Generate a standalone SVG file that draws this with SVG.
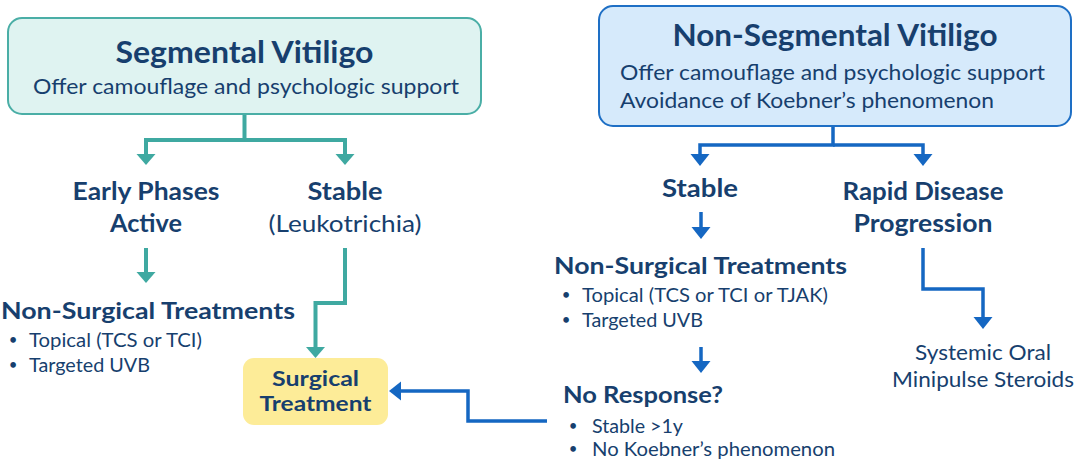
<svg xmlns="http://www.w3.org/2000/svg" width="1081" height="463" viewBox="0 0 1081 463">
<style>
text{font-family:Lato,"Source Sans Pro","Noto Sans",sans-serif;fill:#173f6e}
.b{font-weight:700}
.t{font-size:30px}
.h{font-size:24px}
.s{font-size:22px}
.n{font-size:23px}
.p{font-size:19.5px}
.d{font-size:15px;text-anchor:middle}
.c{text-anchor:middle}
.teal{fill:none;stroke:#3fa9a1;stroke-width:4;stroke-linejoin:miter}
.blue{fill:none;stroke:#1567c2;stroke-width:3.5;stroke-linejoin:miter}
</style>
<defs>
<marker id="ht" markerUnits="userSpaceOnUse" markerWidth="14" markerHeight="22" refX="0" refY="9.5" orient="auto" viewBox="0 0 14 22" overflow="visible">
<path d="M0,0 L11,9.5 L0,19 Z" fill="#3fa9a1"/>
</marker>
<marker id="hb" markerUnits="userSpaceOnUse" markerWidth="14" markerHeight="22" refX="0" refY="9.5" orient="auto" viewBox="0 0 14 22" overflow="visible">
<path d="M0,0 L12,9.5 L0,19 Z" fill="#1567c2"/>
</marker>
</defs>

<g id="connectors">
<path class="teal" d="M244.5,114 V140 H146 V154" marker-end="url(#ht)"/>
<path class="teal" d="M244.5,140 H345 V154" marker-end="url(#ht)"/>
<path class="teal" d="M146,248 V272" marker-end="url(#ht)"/>
<path class="teal" d="M345,248 V303 H315.5 V347" marker-end="url(#ht)"/>
<path class="blue" d="M833,126 V145 H700 V154" marker-end="url(#hb)"/>
<path class="blue" d="M833,145 H923 V154" marker-end="url(#hb)"/>
<path class="blue" d="M701,212 V227" marker-end="url(#hb)"/>
<path class="blue" d="M701,347 V361" marker-end="url(#hb)"/>
<path class="blue" d="M923,248 V289 H983 V317" marker-end="url(#hb)"/>
<path class="blue" d="M547,421 H468 V391 H401" marker-end="url(#hb)"/>
</g>

<g id="segmental">
<rect x="8" y="18" width="473" height="96" rx="14" fill="#dff3f1" stroke="#4aaea6" stroke-width="2"/>
<text class="b t c" x="244.5" y="63" textLength="258" lengthAdjust="spacingAndGlyphs">Segmental Vitiligo</text>
<text class="s c" x="246" y="94" textLength="426" lengthAdjust="spacingAndGlyphs">Offer camouflage and psychologic support</text>
</g>

<g id="nonsegmental">
<rect x="599" y="6" width="472" height="120" rx="14" fill="#d6eafb" stroke="#1e6fc5" stroke-width="2"/>
<text class="b t c" x="835" y="46" textLength="325" lengthAdjust="spacingAndGlyphs">Non-Segmental Vitiligo</text>
<text class="s" x="620" y="80" textLength="425" lengthAdjust="spacingAndGlyphs">Offer camouflage and psychologic support</text>
<text class="s" x="620" y="108" textLength="374" lengthAdjust="spacingAndGlyphs">Avoidance of Koebner’s phenomenon</text>
</g>

<g id="early-active">
<text class="b h c" x="146" y="200" textLength="147" lengthAdjust="spacingAndGlyphs">Early Phases</text>
<text class="b h c" x="146" y="232" textLength="72" lengthAdjust="spacingAndGlyphs">Active</text>
</g>

<g id="seg-stable">
<text class="b h c" x="345" y="200" textLength="75" lengthAdjust="spacingAndGlyphs">Stable</text>
<text class="h c" x="345" y="232" textLength="153" lengthAdjust="spacingAndGlyphs">(Leukotrichia)</text>
</g>

<g id="seg-nonsurgical">
<text class="b n" x="1" y="319" textLength="294" lengthAdjust="spacingAndGlyphs">Non-Surgical Treatments</text>
<text class="d" x="13" y="345">•</text>
<text class="p" x="29" y="347" textLength="173" lengthAdjust="spacingAndGlyphs">Topical (TCS or TCI)</text>
<text class="d" x="13" y="370">•</text>
<text class="p" x="29" y="372" textLength="121" lengthAdjust="spacingAndGlyphs">Targeted UVB</text>
</g>

<g id="surgical">
<rect x="243" y="358" width="145" height="67" rx="11" fill="#fdec98"/>
<text class="b c" style="font-size:21px" x="315.5" y="386" textLength="87" lengthAdjust="spacingAndGlyphs">Surgical</text>
<text class="b c" style="font-size:21px" x="315.5" y="411" textLength="112" lengthAdjust="spacingAndGlyphs">Treatment</text>
</g>

<g id="ns-stable">
<text class="b h c" x="700" y="197" textLength="76" lengthAdjust="spacingAndGlyphs">Stable</text>
</g>

<g id="rapid">
<text class="b h c" x="923" y="200" textLength="161" lengthAdjust="spacingAndGlyphs">Rapid Disease</text>
<text class="b h c" x="923" y="232" textLength="139" lengthAdjust="spacingAndGlyphs">Progression</text>
</g>

<g id="ns-nonsurgical">
<text class="b n" x="554" y="274" textLength="293" lengthAdjust="spacingAndGlyphs">Non-Surgical Treatments</text>
<text class="d" x="566" y="300">•</text>
<text class="p" x="582" y="302" textLength="246" lengthAdjust="spacingAndGlyphs">Topical (TCS or TCI or TJAK)</text>
<text class="d" x="566" y="325">•</text>
<text class="p" x="582" y="327" textLength="121" lengthAdjust="spacingAndGlyphs">Targeted UVB</text>
</g>

<g id="no-response">
<text class="b n" x="563" y="403" textLength="160" lengthAdjust="spacingAndGlyphs">No Response?</text>
<text class="d" x="573" y="431">•</text>
<text class="p" x="592" y="433" textLength="91" lengthAdjust="spacingAndGlyphs">Stable &gt;1y</text>
<text class="d" x="573" y="454">•</text>
<text class="p" x="592" y="456" textLength="243" lengthAdjust="spacingAndGlyphs">No Koebner’s phenomenon</text>
</g>

<g id="steroids">
<text class="c" style="font-size:21px" x="983" y="360" textLength="136" lengthAdjust="spacingAndGlyphs">Systemic Oral</text>
<text class="c" style="font-size:21px" x="983" y="387" textLength="182" lengthAdjust="spacingAndGlyphs">Minipulse Steroids</text>
</g>
</svg>
